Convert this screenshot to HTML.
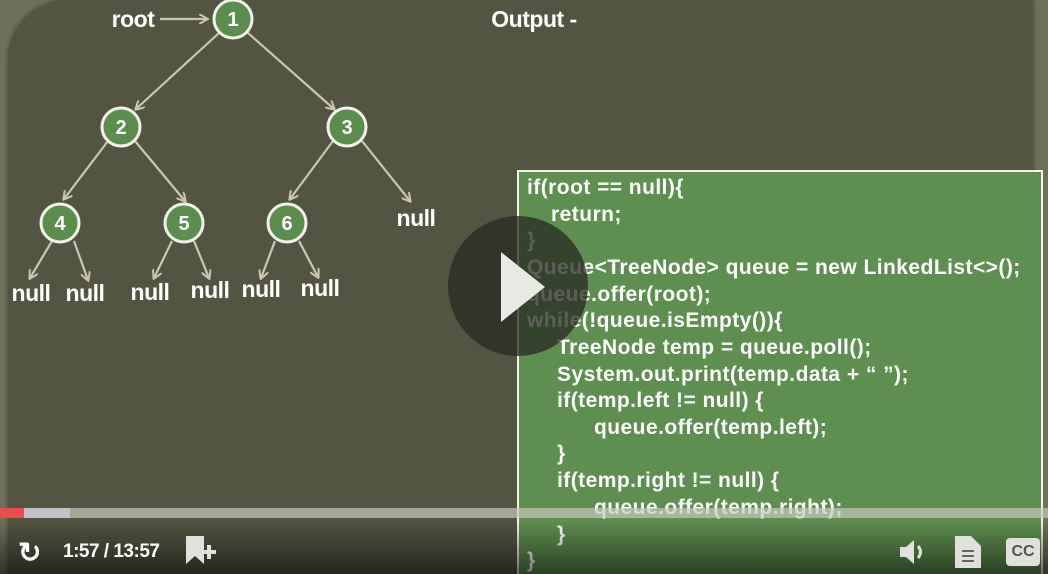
<!DOCTYPE html>
<html style="overflow:hidden"><head><style>
html,body{margin:0;width:1048px;height:574px;overflow:hidden}
body{background:#6e705a;position:relative;font-family:"Liberation Sans",sans-serif}
.panel{position:absolute;left:8px;top:0;width:1025px;height:574px;background:#545443;border-top-left-radius:60px;box-shadow:0 0 4px #3e3e30}
.code{position:absolute;left:517px;top:170px;width:526px;height:404px;background:#5e8e50;border:2px solid #f2f2ea;border-bottom:none;box-sizing:border-box;overflow:hidden}
.code div{position:absolute;color:#fff;font-size:21px;font-weight:bold;white-space:pre;letter-spacing:0.45px}
.t{position:absolute;color:#fff;font-size:22px;letter-spacing:-0.5px}
</style></head><body>
<div class="panel"></div>
<svg style="position:absolute;left:0;top:0" width="1048" height="574">
<defs><marker id="a" markerWidth="10" markerHeight="10" refX="8" refY="5" orient="auto" markerUnits="userSpaceOnUse"><path d="M0,0 L9,5 L0,10" fill="none" stroke="#c8c8b4" stroke-width="2"/></marker></defs>
<g stroke="#c8c8b4" stroke-width="2.2" fill="none" marker-end="url(#a)">
<line x1="160" y1="19" x2="207" y2="19"/>
<line x1="219" y1="33" x2="136" y2="109"/>
<line x1="248" y1="33" x2="334" y2="109"/>
<line x1="108" y1="141" x2="64" y2="199"/>
<line x1="135" y1="141" x2="185" y2="201"/>
<line x1="333" y1="141" x2="290" y2="199"/>
<line x1="362" y1="141" x2="410" y2="201"/>
<line x1="52" y1="241" x2="30" y2="278"/>
<line x1="74" y1="241" x2="88" y2="280"/>
<line x1="172" y1="241" x2="154" y2="278"/>
<line x1="194" y1="241" x2="209" y2="278"/>
<line x1="275" y1="241" x2="261" y2="278"/>
<line x1="299" y1="241" x2="318" y2="277"/>
</g>
<g fill="#5a8d4e" stroke="#f2f2ea" stroke-width="3">
<circle cx="233" cy="19" r="19"/><circle cx="121" cy="127" r="19"/><circle cx="347" cy="127" r="19"/>
<circle cx="60" cy="223" r="19"/><circle cx="184" cy="223" r="19"/><circle cx="287" cy="223" r="19"/>
</g>
<g fill="#fff" font-family="Liberation Sans" font-size="20" font-weight="bold" text-anchor="middle">
<text x="233" y="26">1</text><text x="121" y="134">2</text><text x="347" y="134">3</text>
<text x="60" y="230">4</text><text x="184" y="230">5</text><text x="287" y="230">6</text>
</g>
<g fill="#fff" font-family="Liberation Sans" font-size="23" font-weight="bold" text-anchor="middle" letter-spacing="-0.5">
<text x="133" y="27">root</text><text x="534" y="27">Output -</text>
<text x="416" y="226">null</text>
<text x="31" y="301">null</text><text x="85" y="301">null</text><text x="150" y="300">null</text>
<text x="210" y="298">null</text><text x="261" y="297">null</text><text x="320" y="296">null</text>
</g>
</svg>
<div class="code">
<div style="left:8px;top:4px">if(root == null){</div>
<div style="left:32px;top:31px">return;</div>
<div style="left:8px;top:57px">}</div>
<div style="left:8px;top:84px">Queue&lt;TreeNode&gt; queue = new LinkedList&lt;&gt;();</div>
<div style="left:8px;top:111px">queue.offer(root);</div>
<div style="left:8px;top:137px">while(!queue.isEmpty()){</div>
<div style="left:38px;top:164px">TreeNode temp = queue.poll();</div>
<div style="left:38px;top:191px">System.out.print(temp.data + “ ”);</div>
<div style="left:38px;top:217px">if(temp.left != null) {</div>
<div style="left:75px;top:244px">queue.offer(temp.left);</div>
<div style="left:38px;top:270px">}</div>
<div style="left:38px;top:297px">if(temp.right != null) {</div>
<div style="left:75px;top:324px">queue.offer(temp.right);</div>
<div style="left:38px;top:351px">}</div>
<div style="left:8px;top:377px">}</div>
</div>
<div style="position:absolute;left:448px;top:216px;width:140px;height:140px;border-radius:50%;background:rgba(40,40,34,0.75)"></div>
<svg style="position:absolute;left:498px;top:252px" width="50" height="70"><polygon points="3,0 47,35 3,70" fill="#e8e8e4"/></svg>
<div style="position:absolute;left:0;top:520px;width:1048px;height:54px;background:linear-gradient(rgba(0,0,0,0),rgba(0,0,0,0.55))"></div>
<div style="position:absolute;left:0;top:508px;width:1048px;height:10px;background:rgba(200,200,190,0.7)"></div>
<div style="position:absolute;left:24px;top:508px;width:46px;height:10px;background:#c0c4c8"></div>
<div style="position:absolute;left:0;top:508px;width:24px;height:10px;background:#e84c4c"></div>
<div class="t" style="left:18px;top:536px;font-size:28px;font-weight:bold">↻</div>
<div class="t" style="left:63px;top:541px;font-size:19px;font-weight:bold;letter-spacing:-0.5px">1:57 / 13:57</div>
<svg style="position:absolute;left:186px;top:536px" width="32" height="32"><path d="M0,0 H18 V28 L9,20 L0,28 Z" fill="#e0e0dc"/><path d="M16,16 H30 M23,9 V23" stroke="#e0e0dc" stroke-width="4"/></svg>
<svg style="position:absolute;left:898px;top:538px" width="30" height="28"><path d="M2,9 H8 L16,2 V26 L8,19 H2 Z" fill="#e0e0dc"/><path d="M20,8 Q25,14 20,20" stroke="#e0e0dc" stroke-width="3" fill="none"/></svg>
<svg style="position:absolute;left:955px;top:536px" width="28" height="32"><path d="M0,0 H16 L26,10 V32 H0 Z" fill="#e0e0dc"/><path d="M7,15 H19 M7,20 H19 M7,25 H19" stroke="#666" stroke-width="2"/></svg>
<div style="position:absolute;left:1006px;top:538px;width:34px;height:28px;border-radius:4px;background:#e0e0dc;color:#555;font-size:16px;font-weight:bold;text-align:center;line-height:28px">CC</div>
</body></html>
